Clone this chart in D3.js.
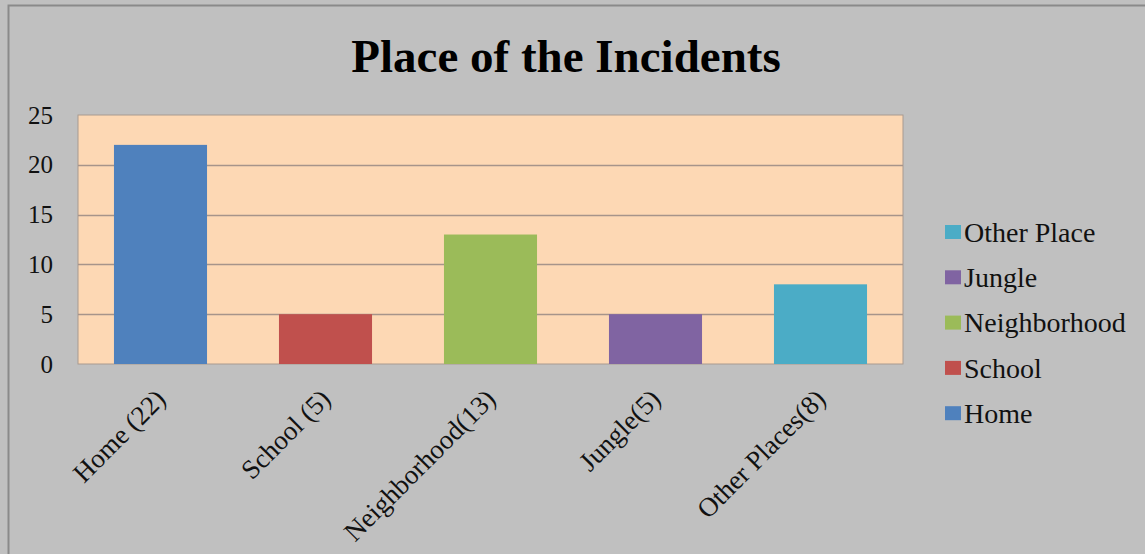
<!DOCTYPE html>
<html>
<head>
<meta charset="utf-8">
<script src="https://cdn.jsdelivr.net/npm/d3@7"></script>
<style>
  body { margin: 0; background: #c0c0c0; }
  text { font-family: "Liberation Serif", "Times New Roman", serif; fill: #111; }
</style>
</head>
<body>
<div id="chart"></div>
<script>
// data
const categories = ["Home (22)", "School (5)", "Neighborhood(13)", "Jungle(5)", "Other Places(8)"];
const counts = [22, 5, 13, 5, 8];
const barColors = ["#4f81bd", "#c0504d", "#9bbb59", "#8064a2", "#4bacc6"];
const legendLabels = ["Other Place", "Jungle", "Neighborhood", "School", "Home"];
const legendColors = ["#4bacc6", "#8064a2", "#9bbb59", "#c0504d", "#4f81bd"];
const yTicks = [0, 5, 10, 15, 20, 25];

const width = 1145, height = 554;
const margin = { top: 115, right: 242, bottom: 190, left: 78 };
const innerW = width - margin.left - margin.right;
const innerH = height - margin.top - margin.bottom;

const svg = d3.select("#chart").append("svg")
    .attr("width", width)
    .attr("height", height);

// outer frame
svg.append("rect")
    .attr("x", 8.5).attr("y", 5.5)
    .attr("width", width + 10).attr("height", height + 10)
    .attr("fill", "#c0c0c0")
    .attr("stroke", "#8a8a8a")
    .attr("stroke-width", 2);

svg.append("text")
    .attr("x", 566).attr("y", 72)
    .attr("text-anchor", "middle")
    .style("font-size", "47px")
    .style("font-weight", "bold")
    .style("fill", "#000")
    .text("Place of the Incidents");

const chart = svg.append("g")
    .attr("transform", `translate(${margin.left},${margin.top})`);

const x = d3.scaleBand()
    .domain(categories)
    .range([0, innerW])
    .paddingInner(0.436)
    .paddingOuter(0.218);

const y = d3.scaleLinear()
    .domain([0, 25])
    .range([innerH, 0]);

// plot area
chart.append("rect")
    .attr("width", innerW).attr("height", innerH)
    .attr("fill", "#fdd8b4")
    .attr("stroke", "#a89a90")
    .attr("stroke-width", 1);

// gridlines
chart.append("g")
    .selectAll("line")
    .data(yTicks.slice(1, -1))
    .join("line")
    .attr("x1", 0).attr("x2", innerW)
    .attr("y1", d => Math.round(y(d)) + 0.5)
    .attr("y2", d => Math.round(y(d)) + 0.5)
    .attr("stroke", "#a6948a")
    .attr("stroke-width", 1.5);

const yAxis = d3.axisLeft(y).tickValues(yTicks).tickSize(0).tickPadding(25);
chart.append("g")
    .call(yAxis)
    .call(g => g.select(".domain").remove())
    .selectAll("text")
    .style("font-size", "25px")
    .style("font-family", "Liberation Serif, serif");

chart.append("g")
    .selectAll("rect")
    .data(counts)
    .join("rect")
    .attr("x", (d, i) => x(categories[i]))
    .attr("y", d => y(d))
    .attr("width", x.bandwidth())
    .attr("height", d => innerH - y(d))
    .attr("fill", (d, i) => barColors[i]);

// rotated category labels
chart.append("g")
    .selectAll("text")
    .data(categories)
    .join("text")
    .attr("transform", d => `translate(${x(d) + x.bandwidth() / 2},${innerH + 30}) rotate(-45)`)
    .attr("text-anchor", "end")
    .attr("dy", "0.35em")
    .style("font-size", "27px")
    .text(d => d);

// legend
const legend = svg.append("g")
    .attr("transform", "translate(945,232)");

const rows = legend.selectAll("g")
    .data(legendLabels)
    .join("g")
    .attr("transform", (d, i) => `translate(0,${i * 45.3})`);

rows.append("rect")
    .attr("x", 0).attr("y", -7)
    .attr("width", 16).attr("height", 14)
    .attr("fill", (d, i) => legendColors[i]);

rows.append("text")
    .attr("x", 19)
    .attr("dy", "0.35em")
    .style("font-size", "28px")
    .text(d => d);
</script>
</body>
</html>
